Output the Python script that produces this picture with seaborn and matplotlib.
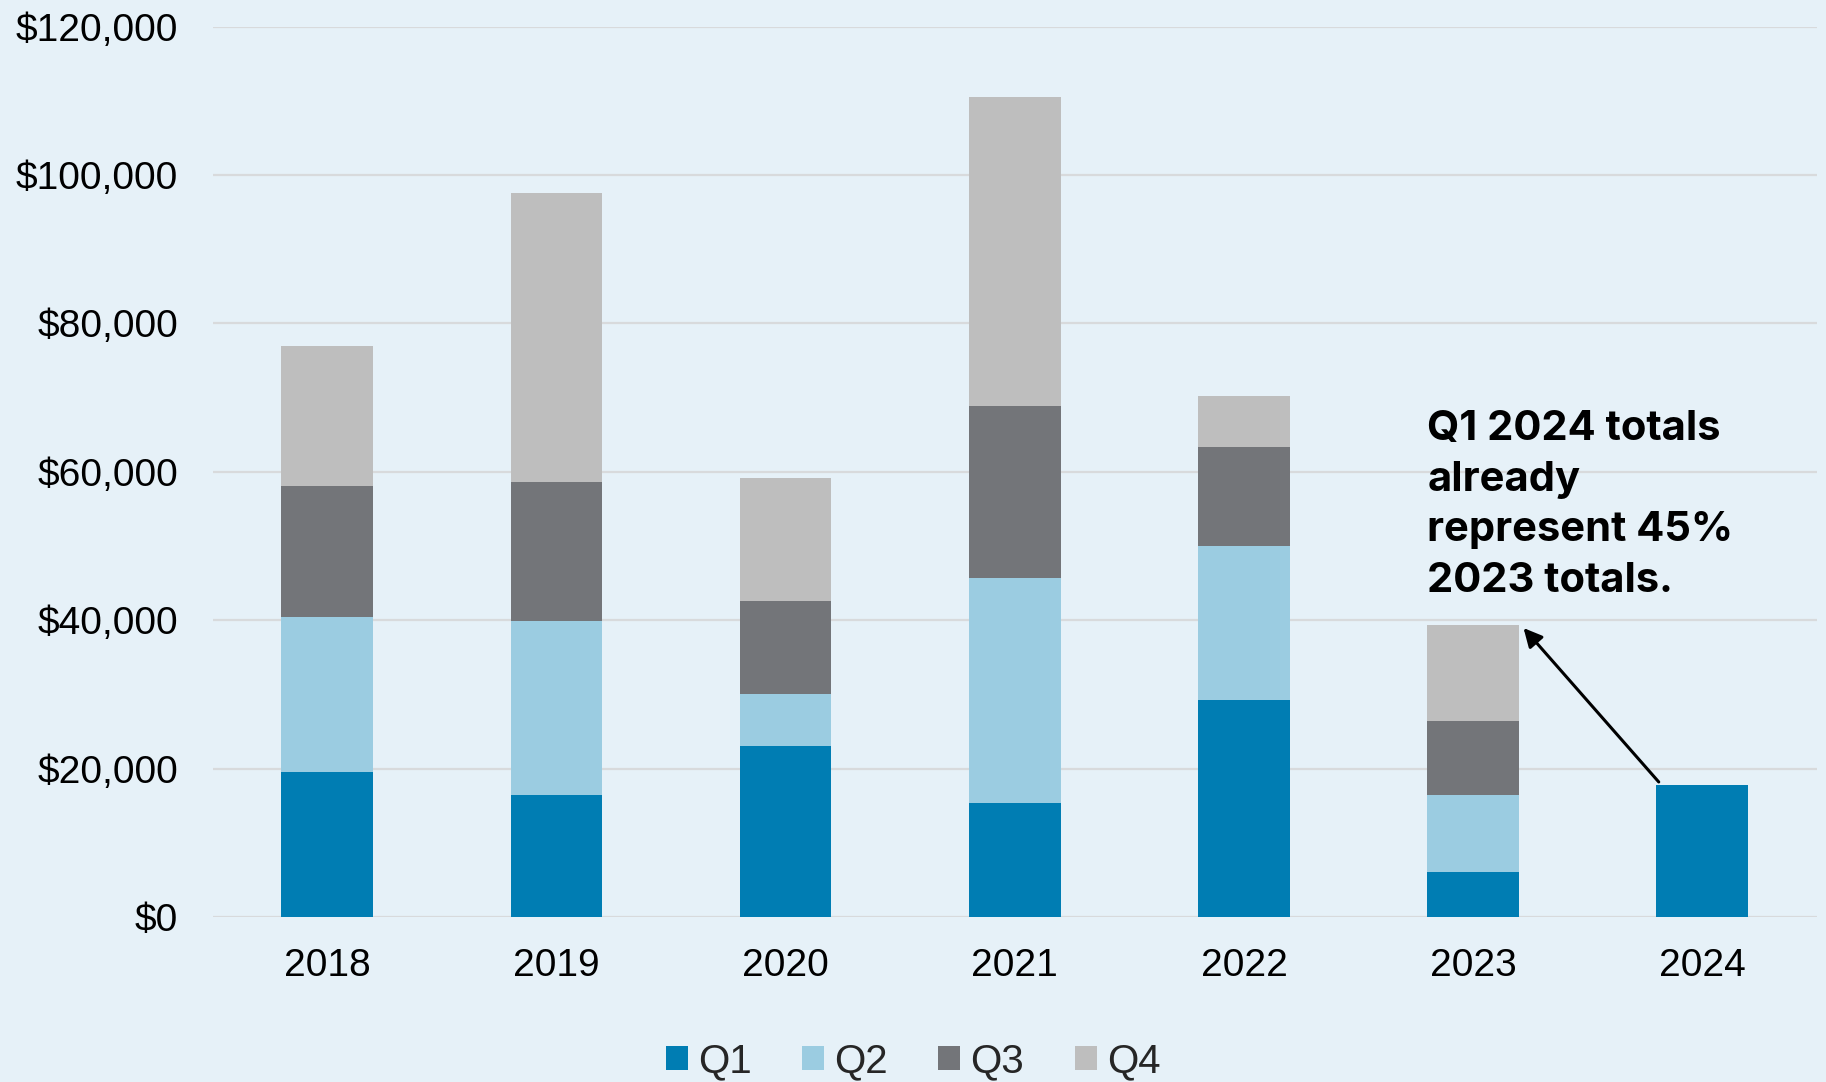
import matplotlib
matplotlib.use("Agg")
import matplotlib.pyplot as plt
import seaborn as sns
import numpy as np
import pandas as pd
from matplotlib.patches import Patch

years = ["2018", "2019", "2020", "2021", "2022", "2023", "2024"]
q1 = [19500, 16500, 23000, 15300, 29300, 6000, 17800]
q2 = [21000, 23400, 7000, 30400, 20700, 10500, 0]
q3 = [17600, 18800, 12600, 23200, 13300, 9900, 0]
q4 = [18800, 38900, 16600, 41600, 6900, 12900, 0]
quarters = ["Q1", "Q2", "Q3", "Q4"]
colors = ["#007DB3", "#9BCCE1", "#737579", "#BEBEBE"]
yticks = [0, 20000, 40000, 60000, 80000, 100000, 120000]
annotation = "Q1 2024 totals\nalready\nrepresent 45%\n2023 totals."

bg = "#E6F1F8"
sns.set_theme(style="white")
plt.rcParams["font.family"] = ["Liberation Sans", "DejaVu Sans"]

fig = plt.figure(figsize=(18.26, 10.82), dpi=100, facecolor=bg)
ax = fig.add_axes([0.1165, 0.1525, 0.8785, 0.8228])
ax.set_facecolor(bg)

series = [q1, q2, q3, q4]
cums = np.cumsum(np.array(series, dtype=float), axis=0)
for i in range(3, -1, -1):
    sns.barplot(x=years, y=cums[i], color=colors[i], width=0.4, ax=ax,
                order=years, linewidth=0, saturation=1, zorder=3)

ax.set_ylim(0, 120000)
ax.set_xlim(-0.5, len(years) - 0.5)
ax.set_yticks(yticks)
ax.set_yticklabels([f"${v:,.0f}" for v in yticks])
ax.yaxis.grid(True, color="#D8DADC", linewidth=1.6, zorder=0)
ax.set_axisbelow(True)
for s in ax.spines.values():
    s.set_visible(False)
ax.tick_params(axis="y", length=0, pad=25, labelsize=28, labelcolor="black")
ax.tick_params(axis="x", length=0, pad=22, labelsize=28, labelcolor="black")
ax.set_xlabel("")
ax.set_ylabel("")

ax.annotate("", xy=(5.22, 38950), xytext=(5.81, 18200),
            arrowprops=dict(arrowstyle="-|>", color="black", lw=2.2,
                            mutation_scale=28, shrinkA=0, shrinkB=0),
            zorder=5)
ax.text(4.80, 68300, annotation, fontsize=30, fontweight="bold",
        family=["Inter", "DejaVu Sans"], va="top", ha="left",
        linespacing=1.42, color="black", zorder=6)

handles = [Patch(facecolor=c, edgecolor="none", label=q) for c, q in zip(colors, quarters)]
fig.legend(handles=handles, loc="center", bbox_to_anchor=(0.5, 0.019),
           ncol=4, frameon=False, fontsize=29, handlelength=0.55, handleheight=0.55,
           handletextpad=0.25, columnspacing=1.25, borderaxespad=0)

fig.savefig("out.png", dpi=100, facecolor=bg)
